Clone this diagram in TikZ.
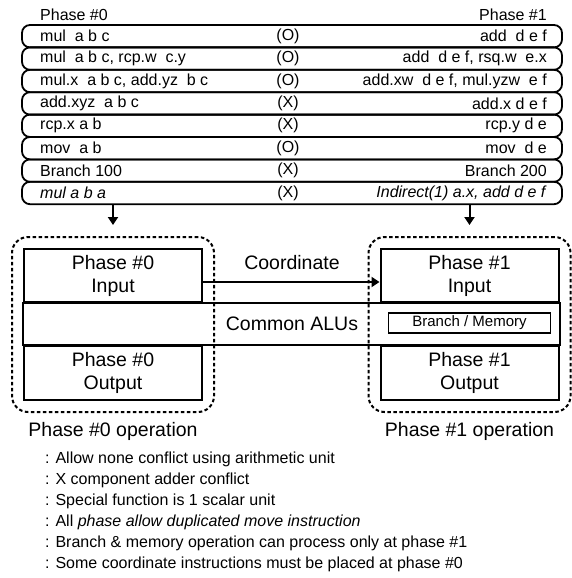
\documentclass[tikz,border=0pt]{standalone}
\usepackage{fontspec}
\setmainfont{Liberation Sans}
\usetikzlibrary{arrows.meta, positioning, fit, calc}
\tikzset{
  rowbar/.style={draw, line width=1.8pt, rounded corners=8pt, minimum width=540pt,
                 minimum height=22.4pt, inner sep=0pt},
  insn/.style={font=\fontsize{16}{18}\selectfont, inner sep=0pt},
  unit/.style={draw, line width=2pt, align=center, inner sep=0pt, minimum width=178pt,
               font=\fontsize{19.5}{23}\selectfont},
  opbox/.style={draw, line width=2pt, dash pattern=on 3.5pt off 2.5pt,
                rounded corners=16pt, inner sep=11pt},
  flow/.style={-{Triangle[length=8pt, width=10pt]}, line width=2pt},
  big/.style={font=\fontsize{19.5}{23}\selectfont, inner sep=0pt},
  note/.style={anchor=west, inner sep=0pt, font=\fontsize{16}{18}\selectfont},
}

\begin{document}
\begin{tikzpicture}[x=1pt, y=-1pt]
  \useasboundingbox (0,0) rectangle (571,578);

  \node[insn, anchor=west] (ph0) at (40,15) {Phase \#0};
  \node[insn, anchor=east] (ph1) at (547,15) {Phase \#1};

  \foreach \i/\l/\m/\r in {
      1/{mul\ \ a b c}/O/{add\ \ d e f},
      2/{mul\ \ a b c, rcp.w\ \ c.y}/O/{add\ \ d e f, rsq.w\ \ e.x},
      3/{mul.x\ \ a b c, add.yz\ \ b c}/O/{add.xw\ \ d e f, mul.yzw\ \ e f},
      4/{add.xyz\ \ a b c}/X/{add.x d e f},
      5/{rcp.x a b}/X/{rcp.y d e},
      6/{mov\ \ a b}/O/{mov\ \ d e},
      7/{Branch 100}/X/{Branch 200},
      8/{\textit{mul a b a}}/X/{\textit{Indirect(1) a.x, add d e f}}}{
    \node[rowbar] (row\i) at (292,{13.8+22.4*\i}) {};
    \node[insn, anchor=west] (lt\i) at (40,{13.8+22.4*\i}) {\l};
    \node[insn] (mk\i) at (288,{13.8+22.4*\i}) {(\m)};
    \node[insn, anchor=east] (rt\i) at (547,{13.8+22.4*\i}) {\r};
  }

  \node[unit, minimum height=53pt] (in0) at (113,275.5) {Phase \#0\\Input};
  \node[unit, minimum height=53pt] (in1) at (469.5,275.5) {Phase \#1\\Input};
  \node[unit, minimum height=54pt] (out0) at (113,373) {Phase \#0\\Output};
  \node[unit, minimum height=54pt] (out1) at (469.5,373) {Phase \#1\\Output};
  \draw[line width=2pt] (in0.south west) rectangle (out1.north east);
  \node[big] (alu) at (292,324) {Common ALUs};
  \node[draw, line width=1.8pt, minimum width=162pt, minimum height=20pt, inner sep=0pt,
        font=\fontsize{15}{17}\selectfont] (bm) at (469.5,323) {Branch / Memory};

  \node[opbox, fit=(in0)(out0)] (op0) {};
  \node[opbox, fit=(in1)(out1)] (op1) {};
  \node[big, below=9pt of op0] (opl0) {Phase \#0 operation};
  \node[big, below=9pt of op1] (opl1) {Phase \#1 operation};

  \coordinate (d0) at (113,225);
  \coordinate (d1) at (469.5,225);
  \draw[flow] (row8.south -| d0) -- (d0);
  \draw[flow] (row8.south -| d1) -- (d1);

  \draw[flow] ([yshift=-6.5pt]in0.east) -- ([yshift=-6.5pt]in1.west);
  \node[big] (coord) at (292,263) {Coordinate};

  \node[note] (n1) at (45,459) {: Allow none conflict using arithmetic unit};
  \node[note] (n2) at (45,480) {: X component adder conflict};
  \node[note] (n3) at (45,501) {: Special function is 1 scalar unit};
  \node[note] (n4) at (45,522) {: All \textit{phase allow duplicated move instruction}};
  \node[note] (n5) at (45,543) {: Branch \& memory operation can process only at phase \#1};
  \node[note] (n6) at (45,564) {: Some coordinate instructions must be placed at phase \#0};
\end{tikzpicture}
\end{document}
